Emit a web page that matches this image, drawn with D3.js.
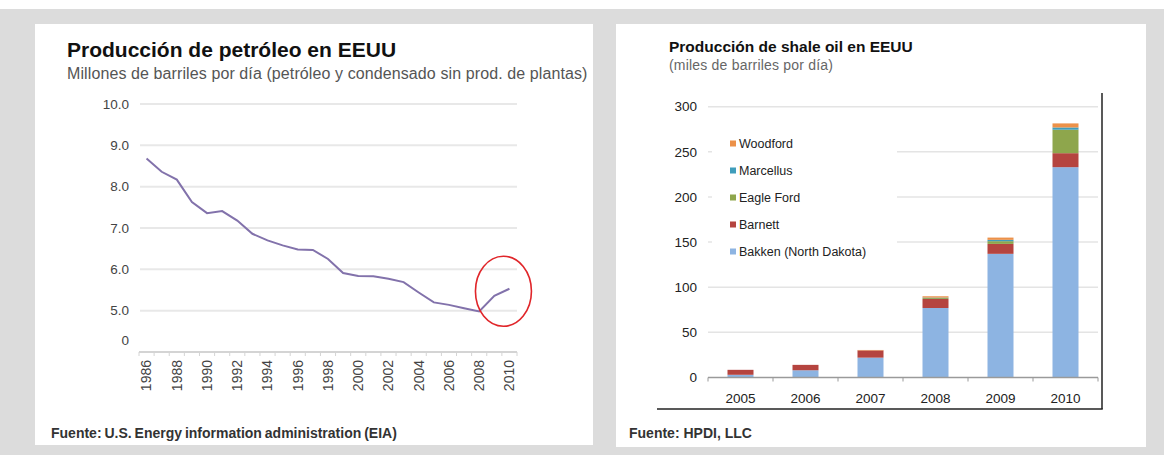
<!DOCTYPE html>
<html>
<head>
<meta charset="utf-8">
<script src="https://cdn.jsdelivr.net/npm/d3@7"></script>
<style>
  html, body { margin: 0; padding: 0; background: #fff; }
  svg { display: block; font-family: "Liberation Sans", Arial, sans-serif; }
</style>
</head>
<body>
<svg id="chart" width="1164" height="455"></svg>
<script>
// left chart: US crude oil production (million b/d)
const oilYears = d3.range(1986, 2011);
const oilValues = [8.68, 8.36, 8.17, 7.63, 7.36, 7.41, 7.18, 6.86, 6.70, 6.58,
  6.48, 6.47, 6.25, 5.91, 5.84, 5.83, 5.77, 5.69, 5.44, 5.20,
  5.14, 5.06, 4.98, 5.36, 5.53];
const oilTicks = [5, 6, 7, 8, 9, 10];
const oilYearLabels = oilYears.filter(y => y % 2 === 0);

// right chart: shale oil production (thousand b/d)
const shaleYears = ["2005", "2006", "2007", "2008", "2009", "2010"];
const bakken = [3, 8, 22, 77, 137, 233];
const barnett = [5.5, 6, 8, 10, 11, 15.5];
const eagleFord = [0, 0, 0, 1, 3, 26];
const marcellus = [0, 0, 0, 0.5, 1.5, 2.5];
const woodford = [0, 0, 0.5, 1.5, 2.5, 4.5];
const shaleSeries = ["Bakken (North Dakota)", "Barnett", "Eagle Ford", "Marcellus", "Woodford"];
const shaleColors = ["#8db4e2", "#b5443f", "#8ea64c", "#3f9dbb", "#ec9149"];
const shaleTicks = [0, 50, 100, 150, 200, 250, 300];

const svg = d3.select("#chart");

// background + panels
svg.append("rect").attr("x", 0).attr("y", 9).attr("width", 1164).attr("height", 446).attr("fill", "#dcdcdc");
svg.append("rect").attr("x", 35).attr("y", 24).attr("width", 558).attr("height", 421).attr("fill", "#fff");
svg.append("rect").attr("x", 616).attr("y", 24).attr("width", 530).attr("height", 423).attr("fill", "#fff");

// ---------- left chart ----------
const L = svg.append("g");
L.append("text").attr("x", 67).attr("y", 57)
  .attr("font-size", 21).attr("font-weight", "bold").attr("fill", "#111")
  .text("Producción de petróleo en EEUU");
L.append("text").attr("x", 67).attr("y", 79)
  .attr("font-size", 16).attr("letter-spacing", 0.1).attr("fill", "#555")
  .text("Millones de barriles por día (petróleo y condensado sin prod. de plantas)");

const xL = d3.scalePoint().domain(oilYears).range([139, 517]).padding(0.5);
const yL = d3.scaleLinear().domain([4, 10]).range([352, 104]);

// gridlines
L.append("g").selectAll("line").data(oilTicks).join("line")
  .attr("x1", 140).attr("x2", 517)
  .attr("y1", d => yL(d)).attr("y2", d => yL(d))
  .attr("stroke", "#e8e8e8").attr("stroke-width", 2);

// y labels
L.append("g").selectAll("text").data(oilTicks).join("text")
  .attr("x", 129).attr("y", d => yL(d)).attr("dy", "0.35em")
  .attr("text-anchor", "end").attr("font-size", 13.5).attr("fill", "#444")
  .text(d => d.toFixed(1));
L.append("text").attr("x", 129).attr("y", yL(4) - 12).attr("dy", "0.35em")
  .attr("text-anchor", "end").attr("font-size", 13.5).attr("fill", "#444").text("0");

// x axis
const stepL = xL.step();
L.append("line").attr("x1", 139).attr("x2", 517).attr("y1", yL(4)).attr("y2", yL(4))
  .attr("stroke", "#d4d4d4").attr("stroke-width", 2);
L.append("g").selectAll("line").data(oilYears.concat([2011])).join("line")
  .attr("x1", d => 139 + (d - 1986) * stepL).attr("x2", d => 139 + (d - 1986) * stepL)
  .attr("y1", yL(4)).attr("y2", yL(4) + 4)
  .attr("stroke", "#d4d4d4").attr("stroke-width", 1);
L.append("g").selectAll("text").data(oilYearLabels).join("text")
  .attr("transform", d => `translate(${xL(d)},${yL(4) + 8}) rotate(-90)`)
  .attr("text-anchor", "end").attr("dy", "0.35em")
  .attr("font-size", 14).attr("fill", "#444")
  .text(d => d);

// line
L.append("path").datum(oilValues)
  .attr("fill", "none").attr("stroke", "#8272ab").attr("stroke-width", 2)
  .attr("d", d3.line().x((d, i) => xL(oilYears[i])).y(d => yL(d)));

// red ellipse annotation
L.append("ellipse").attr("cx", xL(2010) - 6).attr("cy", yL(5.47))
  .attr("rx", 28).attr("ry", 35)
  .attr("fill", "none").attr("stroke", "#e0262a").attr("stroke-width", 1.6);

L.append("text").attr("x", 51).attr("y", 438)
  .attr("font-size", 14).attr("font-weight", "bold").attr("fill", "#333")
  .attr("word-spacing", -1)
  .text("Fuente: U.S. Energy information administration (EIA)");

// ---------- right chart ----------
const R = svg.append("g");
R.append("text").attr("x", 669).attr("y", 52)
  .attr("font-size", 15.5).attr("font-weight", "bold").attr("fill", "#111")
  .text("Producción de shale oil en EEUU");
R.append("text").attr("x", 669).attr("y", 70)
  .attr("font-size", 14).attr("letter-spacing", 0.2).attr("fill", "#666")
  .text("(miles de barriles por día)");

const xR = d3.scaleBand().domain(shaleYears).range([708, 1098]).paddingInner(0.6).paddingOuter(0.3);
const yR = d3.scaleLinear().domain([0, 300]).range([377.5, 106.7]);

R.append("g").selectAll("line").data(shaleTicks.slice(1)).join("line")
  .attr("x1", 708).attr("x2", 1098)
  .attr("y1", d => yR(d)).attr("y2", d => yR(d))
  .attr("stroke", "#e4e4e4").attr("stroke-width", 1.5);

R.append("g").selectAll("text").data(shaleTicks).join("text")
  .attr("x", 697).attr("y", d => yR(d)).attr("dy", "0.35em")
  .attr("text-anchor", "end").attr("font-size", 13.5).attr("fill", "#222")
  .text(d => d);

// stacked bars
const rows = shaleYears.map((y, i) => ({
  year: y,
  "Bakken (North Dakota)": bakken[i],
  "Barnett": barnett[i],
  "Eagle Ford": eagleFord[i],
  "Marcellus": marcellus[i],
  "Woodford": woodford[i]
}));
const stacked = d3.stack().keys(shaleSeries)(rows);
const color = d3.scaleOrdinal().domain(shaleSeries).range(shaleColors);

R.append("g").selectAll("g").data(stacked).join("g")
  .attr("fill", d => color(d.key))
  .selectAll("rect").data(d => d).join("rect")
  .attr("x", d => xR(d.data.year))
  .attr("width", xR.bandwidth())
  .attr("y", d => yR(d[1]))
  .attr("height", d => yR(d[0]) - yR(d[1]));

// x axis
const stepR = xR.step();
R.append("line").attr("x1", 708).attr("x2", 1098).attr("y1", yR(0)).attr("y2", yR(0))
  .attr("stroke", "#9a9a9a").attr("stroke-width", 1.5);
R.append("g").selectAll("line").data(d3.range(shaleYears.length + 1)).join("line")
  .attr("x1", d => 708 + d * stepR).attr("x2", d => 708 + d * stepR)
  .attr("y1", yR(0)).attr("y2", yR(0) + 4)
  .attr("stroke", "#9a9a9a").attr("stroke-width", 1);
R.append("g").selectAll("text").data(shaleYears).join("text")
  .attr("x", d => xR(d) + xR.bandwidth() / 2).attr("y", 403)
  .attr("text-anchor", "middle").attr("font-size", 13.5).attr("fill", "#222")
  .text(d => d);

// legend
const lg = R.append("g");
lg.append("rect").attr("x", 712).attr("y", 128).attr("width", 185).attr("height", 136).attr("fill", "#fff");
const legendOrder = shaleSeries.slice().reverse();
const li = lg.selectAll("g.item").data(legendOrder).join("g")
  .attr("transform", (d, i) => `translate(730,${143.5 + i * 27})`);
li.append("rect").attr("x", 0).attr("y", -3).attr("width", 6).attr("height", 6)
  .attr("fill", d => color(d));
li.append("text").attr("x", 9).attr("dy", "0.35em")
  .attr("font-size", 12.5).attr("fill", "#222").text(d => d);

// frame (right and bottom edges)
R.append("line").attr("x1", 1102).attr("x2", 1102).attr("y1", 93).attr("y2", 409)
  .attr("stroke", "#222").attr("stroke-width", 1.5);
R.append("line").attr("x1", 657).attr("x2", 1102.75).attr("y1", 409).attr("y2", 409)
  .attr("stroke", "#222").attr("stroke-width", 1.5);

R.append("text").attr("x", 629).attr("y", 438)
  .attr("font-size", 14).attr("font-weight", "bold").attr("fill", "#333")
  .text("Fuente: HPDI, LLC");
</script>
</body>
</html>
